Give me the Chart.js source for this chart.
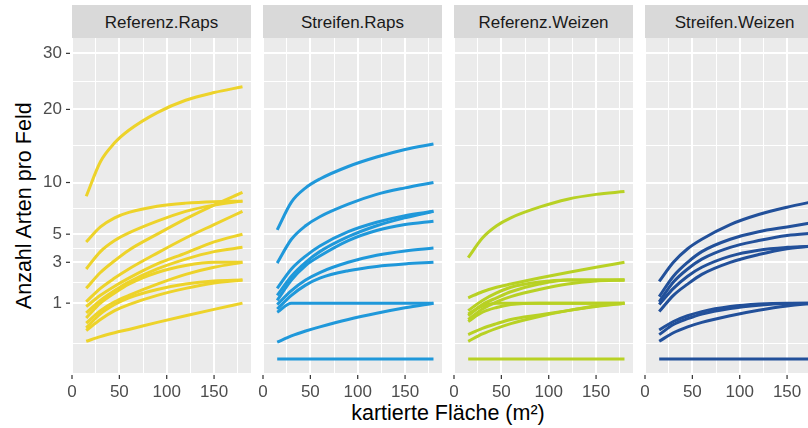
<!DOCTYPE html>
<html><head><meta charset="utf-8">
<script src="https://cdn.jsdelivr.net/npm/chart.js@4.4.0/dist/chart.umd.min.js"></script>
<style>
html,body{margin:0;padding:0;background:#fff;overflow:hidden;}
#wrap{position:relative;width:808px;height:428px;overflow:hidden;font-family:"Liberation Sans",Arial,sans-serif;}
#wrap canvas{position:absolute;top:38px;}
.strip{position:absolute;top:5px;height:33px;width:179px;background:#D9D9D9;color:#1A1A1A;font-size:17px;line-height:35px;text-align:center;white-space:nowrap;}
#xtitle{position:absolute;left:248px;width:400px;top:403px;text-align:center;font-size:21.5px;line-height:21.5px;color:#000;}
#ytitle{position:absolute;left:-175px;width:400px;top:195px;text-align:center;font-size:21.5px;line-height:21.5px;color:#000;transform:rotate(-90deg);}
</style></head>
<body><div id="wrap">
<div id="xtitle">kartierte Fläche (m²)</div>
<div id="ytitle">Anzahl Arten pro Feld</div>
</div>
<script>
// ---- data ----
const areaSteps = [15, 30, 45, 60, 90, 120, 150, 180];
const panelTitles = ['Referenz.Raps', 'Streifen.Raps', 'Referenz.Weizen', 'Streifen.Weizen'];
const panelColors = ['#EDD32A', '#1F98DA', '#B8D124', '#22509A'];
const yTickValues = [1, 3, 5, 10, 20, 30];
const xTickValues = [0, 50, 100, 150];

const referenzRaps = [
  [8.5, 12.5, 15.0, 16.8, 19.5, 21.5, 22.8, 23.8],
  [4.4, 5.6, 6.4, 6.9, 7.5, 7.8, 7.95, 8.0],
  [2.6, 3.7, 4.5, 5.1, 6.1, 7.0, 7.6, 8.0],
  [1.6, 2.4, 3.1, 3.8, 5.0, 6.3, 7.6, 8.9],
  [1.05, 1.6, 2.1, 2.6, 3.6, 4.7, 5.8, 7.0],
  [0.88, 1.3, 1.7, 2.1, 2.9, 3.6, 4.4, 5.0],
  [0.68, 1.1, 1.5, 1.9, 2.6, 3.2, 3.7, 4.0],
  [0.54, 1.0, 1.4, 1.8, 2.4, 2.8, 3.0, 3.0],
  [0.41, 0.75, 1.05, 1.3, 1.8, 2.3, 2.7, 3.0],
  [0.31, 0.65, 0.95, 1.2, 1.55, 1.8, 1.95, 2.0],
  [0.26, 0.5, 0.75, 0.95, 1.3, 1.6, 1.85, 2.0],
  [0.1, 0.16, 0.22, 0.28, 0.43, 0.6, 0.79, 1.0]
];
const streifenRaps = [
  [5.35, 7.9, 9.4, 10.4, 11.9, 13.1, 14.1, 14.85],
  [2.95, 4.6, 5.7, 6.5, 7.7, 8.7, 9.4, 10.0],
  [1.6, 2.6, 3.4, 4.1, 5.2, 6.0, 6.6, 7.0],
  [1.3, 2.2, 3.0, 3.7, 4.8, 5.7, 6.4, 7.0],
  [1.1, 2.0, 2.8, 3.4, 4.5, 5.3, 5.8, 6.1],
  [0.95, 1.5, 2.0, 2.4, 3.0, 3.45, 3.75, 3.95],
  [0.8, 1.3, 1.75, 2.1, 2.5, 2.75, 2.9, 3.0],
  [0.7, 1.0, 1.0, 1.0, 1.0, 1.0, 1.0, 1.0],
  [0.09, 0.17, 0.25, 0.33, 0.5, 0.67, 0.84, 1.0],
  [0, 0, 0, 0, 0, 0, 0, 0]
];
const referenzWeizen = [
  [3.3, 4.7, 5.7, 6.4, 7.4, 8.2, 8.7, 9.0],
  [1.2, 1.45, 1.65, 1.8, 2.1, 2.4, 2.7, 3.0],
  [0.75, 1.1, 1.4, 1.65, 1.9, 2.0, 2.0, 2.0],
  [0.6, 0.95, 1.2, 1.45, 1.8, 2.0, 2.0, 2.0],
  [0.5, 0.8, 1.05, 1.25, 1.55, 1.8, 1.95, 2.0],
  [0.65, 0.9, 1.0, 1.0, 1.0, 1.0, 1.0, 1.0],
  [0.45, 0.7, 0.85, 0.95, 1.0, 1.0, 1.0, 1.0],
  [0.19, 0.3, 0.4, 0.5, 0.62, 0.75, 0.88, 1.0],
  [0.1, 0.2, 0.3, 0.4, 0.58, 0.75, 0.9, 1.0],
  [0, 0, 0, 0, 0, 0, 0, 0]
];
const streifenWeizen = [
  [1.93, 3.0, 3.9, 4.6, 5.8, 6.7, 7.4, 8.0],
  [1.25, 2.2, 3.0, 3.7, 4.6, 5.2, 5.6, 6.0],
  [1.05, 1.9, 2.6, 3.2, 4.0, 4.5, 4.9, 5.1],
  [0.95, 1.6, 2.2, 2.7, 3.4, 3.8, 4.0, 4.1],
  [0.72, 1.3, 1.8, 2.3, 3.0, 3.5, 3.9, 4.1],
  [0.27, 0.45, 0.6, 0.72, 0.88, 0.97, 1.0, 1.0],
  [0.19, 0.38, 0.52, 0.65, 0.82, 0.93, 0.99, 1.0],
  [0.1, 0.22, 0.33, 0.43, 0.6, 0.76, 0.9, 1.0],
  [0, 0, 0, 0, 0, 0, 0, 0]
];
const panelData = [referenzRaps, streifenRaps, referenzWeizen, streifenWeizen];

// ---- styling helpers ----
const yMinorGrid = [0.072, 1.866, 3.936, 7.285, 14.57, 24.75];
const xMinorGrid = [25, 75, 125, 175];
const panelLefts = [72, 263, 454, 645];
const PANEL_W = 179;

// sqrt-transformed y scale
class SqrtScale extends Chart.LinearScale {
  static id = 'sqrt';
  static defaults = {};
  _t(v) { return Math.sign(v) * Math.sqrt(Math.abs(v)); }
  buildTicks() {
    return [...yTickValues, ...yMinorGrid].sort((a, b) => a - b).map(v => ({ value: v }));
  }
  configure() {
    super.configure();
    this._tMin = this._t(this.min);
    this._tMax = this._t(this.max);
  }
  getPixelForValue(value) {
    return this.getPixelForDecimal((this._t(value) - this._tMin) / (this._tMax - this._tMin));
  }
  getValueForPixel(pixel) {
    const t = this._tMin + this.getDecimalForPixel(pixel) * (this._tMax - this._tMin);
    return Math.sign(t) * t * t;
  }
}
Chart.register(SqrtScale);

const panelPlugin = {
  id: 'panelDeco',
  beforeDraw(chart) {
    const { ctx, chartArea: a } = chart;
    ctx.save();
    ctx.fillStyle = '#EBEBEB';
    ctx.fillRect(a.left, a.top, a.right - a.left, a.bottom - a.top);
    ctx.restore();
  },
  afterDraw(chart) {
    const { ctx, chartArea: a, scales } = chart;
    ctx.save();
    ctx.strokeStyle = '#333333';
    ctx.lineWidth = 1.2;
    xTickValues.forEach(v => {
      const px = scales.x.getPixelForValue(v);
      ctx.beginPath(); ctx.moveTo(px, a.bottom + 2); ctx.lineTo(px, a.bottom + 6); ctx.stroke();
    });
    if (chart.options.plugins.panelDeco.yTicks) {
      yTickValues.forEach(v => {
        const py = scales.y.getPixelForValue(v);
        ctx.beginPath(); ctx.moveTo(a.left - 6, py); ctx.lineTo(a.left - 2, py); ctx.stroke();
      });
    }
    ctx.restore();
  }
};

const wrap = document.getElementById('wrap');
const FONT = { family: '"Liberation Sans", Arial, sans-serif', size: 17 };

panelData.forEach((series, p) => {
  const strip = document.createElement('div');
  strip.className = 'strip';
  strip.style.left = panelLefts[p] + 'px';
  strip.textContent = panelTitles[p];
  wrap.appendChild(strip);

  const first = p === 0;
  const leftW = first ? 72 : 12;
  const canvas = document.createElement('canvas');
  canvas.width = leftW + PANEL_W;
  canvas.height = 390;
  canvas.style.left = (panelLefts[p] - leftW) + 'px';
  canvas.style.width = canvas.width + 'px';
  canvas.style.height = canvas.height + 'px';
  wrap.appendChild(canvas);

  new Chart(canvas, {
    type: 'line',
    data: {
      datasets: series.map(vals => ({
        data: areaSteps.map((x, i) => ({ x: x, y: vals[i] })),
        borderColor: panelColors[p],
        borderWidth: 3,
        pointRadius: 0,
        cubicInterpolationMode: 'monotone',
        borderCapStyle: 'butt',
        borderJoinStyle: 'round',
        fill: false
      }))
    },
    options: {
      responsive: false,
      animation: false,
      devicePixelRatio: 1,
      layout: { padding: 0 },
      plugins: { legend: { display: false }, tooltip: { enabled: false }, panelDeco: { yTicks: first } },
      scales: {
        x: {
          type: 'linear', min: 0, max: 189,
          afterBuildTicks: s => { s.ticks = [0, 25, 50, 75, 100, 125, 150, 175].map(v => ({ value: v })); },
          afterFit: s => { s.height = 55; s.paddingLeft = 0; s.paddingRight = 0; },
          border: { display: false },
          grid: {
            color: '#FFFFFF', drawTicks: false,
            lineWidth: c => (c.tick && xMinorGrid.includes(c.tick.value)) ? 1 : 2
          },
          ticks: {
            autoSkip: false, maxRotation: 0, padding: 9, color: '#4D4D4D', font: FONT,
            callback: v => xTickValues.includes(v) ? String(v) : ''
          }
        },
        y: {
          type: 'sqrt', min: -0.0635, max: 33.09,
          afterFit: s => { s.width = leftW; s.paddingTop = 0; s.paddingBottom = 0; },
          border: { display: false },
          grid: {
            color: '#FFFFFF', drawTicks: false,
            lineWidth: c => (c.tick && yTickValues.includes(c.tick.value)) ? 2 : 1
          },
          ticks: {
            display: first, autoSkip: false, padding: 10, color: '#4D4D4D', font: FONT,
            callback: v => yTickValues.includes(v) ? String(v) : ''
          }
        }
      }
    },
    plugins: [panelPlugin]
  });
});
</script>
</body></html>
